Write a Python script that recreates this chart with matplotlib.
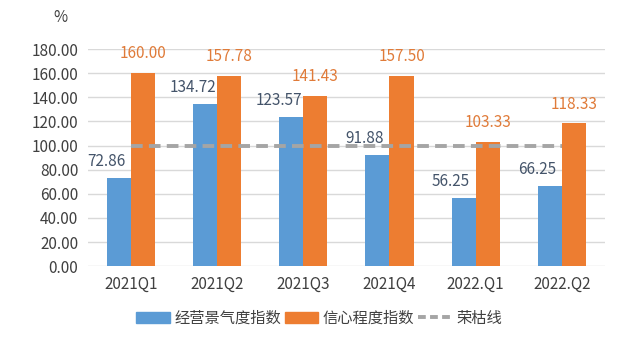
import matplotlib
matplotlib.use("Agg")
import matplotlib.pyplot as plt
import numpy as np
from matplotlib.lines import Line2D
from matplotlib.patches import Patch

plt.rcParams['font.family'] = ['Noto Sans CJK SC', 'DejaVu Sans']

categories = ["2021Q1", "2021Q2", "2021Q3", "2021Q4", "2022.Q1", "2022.Q2"]
business = [72.86, 134.72, 123.57, 91.88, 56.25, 66.25]
confidence = [160.00, 157.78, 141.43, 157.50, 103.33, 118.33]
boom_line = [100, 100, 100, 100, 100, 100]
yticks = [0, 20, 40, 60, 80, 100, 120, 140, 160, 180]

blue = "#5B9BD5"
orange = "#ED7D31"
gray = "#A5A5A5"

fig = plt.figure(figsize=(6.38, 3.53), dpi=100)
ax = fig.add_axes([0.138, 0.246, 0.810, 0.615])

x = np.arange(len(categories))
w = 0.28
ax.bar(x - w/2, business, w, color=blue, zorder=2)
ax.bar(x + w/2, confidence, w, color=orange, zorder=2)
ax.plot(x, boom_line, color=gray, lw=2.8, ls=(0, (3, 1.6)), zorder=3)

for xi, v in zip(x, business):
    ax.annotate(f"{v:.2f}", (xi - w/2, v), xytext=(-9, 12), textcoords="offset points",
                ha="center", va="center", fontsize=11, color="#44546A")
for xi, v in zip(x, confidence):
    ax.annotate(f"{v:.2f}", (xi + w/2, v), xytext=(0, 14), textcoords="offset points",
                ha="center", va="center", fontsize=11, color="#E07B39")

ax.set_xlim(-0.5, len(categories) - 0.5)
ax.set_ylim(0, 180)
ax.set_yticks(yticks)
ax.set_yticklabels([f"{t:.2f}" for t in yticks])
ax.set_xticks(x)
ax.set_xticklabels(categories)
ax.tick_params(axis='both', length=0, labelsize=11, colors="#404040")
ax.tick_params(axis='x', pad=7)
ax.tick_params(axis='y', pad=7)
ax.yaxis.grid(True, color="#D9D9D9", lw=1, zorder=0)
ax.set_axisbelow(True)
for s in ax.spines.values():
    s.set_visible(False)

fig.text(60/638, 1 - 17/353, "%", fontsize=11, color="#404040", ha="center", va="center")

handles = [Patch(color=blue), Patch(color=orange),
           Line2D([0], [0], color=gray, lw=2.8, ls=(0, (2, 1.1)))]
labels = ["经营景气度指数", "信心程度指数", "荣枯线"]
fig.legend(handles, labels, loc="center", bbox_to_anchor=(0.5, 1 - 318/353), ncol=3,
           frameon=False, fontsize=11, handlelength=2.2, handleheight=0.7,
           columnspacing=0.25, handletextpad=0.3, labelcolor="#404040")

fig.savefig("out.png", dpi=100)
